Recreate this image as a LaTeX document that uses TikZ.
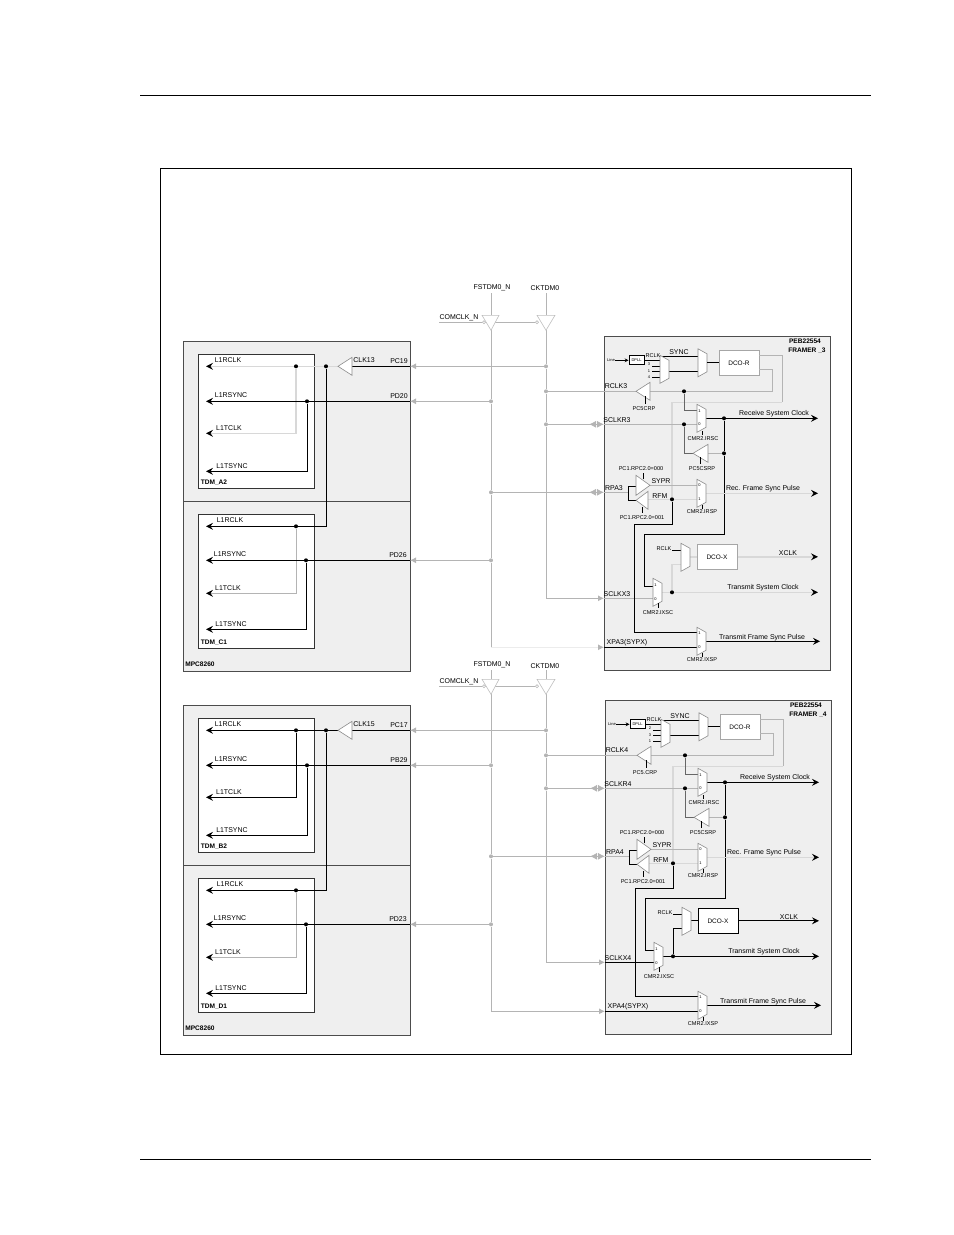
\documentclass[tikz,border=0pt]{standalone}
\usepackage{fontspec}
\setmainfont{Liberation Sans}
\usetikzlibrary{arrows.meta}
\definecolor{panelgrey}{HTML}{EFEFEF}
\definecolor{wiregrey}{HTML}{B4B4B4}
\definecolor{faintgrey}{HTML}{D8D8D8}
\definecolor{palegrey}{HTML}{ECECEC}
\tikzset{
  lbl/.style={inner sep=0pt,font=\fontsize{7}{8}\selectfont},
  lblbold/.style={inner sep=0pt,font=\fontsize{6.6}{7}\selectfont\bfseries},
  lblsm/.style={inner sep=0pt,font=\fontsize{5.6}{6}\selectfont},
  lbltiny/.style={inner sep=0pt,font=\fontsize{4}{5}\selectfont},
  panelbox/.style={draw=black!70,fill=panelgrey,line width=1bp,inner sep=0pt,anchor=north west},
  tdmbox/.style={draw=black!80,fill=white,line width=1bp,inner sep=0pt,anchor=north west},
  dcobox/.style={draw=black!35,fill=white,line width=1bp,inner sep=0pt,minimum width=40bp,minimum height=25bp,font=\fontsize{6.5}{7}\selectfont},
  dpllbox/.style={draw=black,fill=white,line width=.9bp,inner sep=0pt,minimum width=15bp,minimum height=9bp,font=\fontsize{4}{5}\selectfont},
  wire/.style={draw=black,line width=.9bp},
  midwire/.style={draw=black!60,line width=.8bp},
  greywire/.style={draw=wiregrey,line width=.9bp},
  faintwire/.style={draw=faintgrey,line width=1.4bp},
  gateline/.style={draw=black!45,fill=white,line width=.6bp},
  busgate/.style={draw=black!25,fill=white,line width=.6bp},
  arr/.style={-{Stealth[black,length=7bp,width=7bp,inset=2.5bp]}},
  smallarr/.style={-{Stealth[black,length=4bp,width=4bp,inset=1.5bp]}},
  greyarr/.style={-{Latex[wiregrey,length=6bp,width=6bp]}},
  dblarr/.style={-{Latex[wiregrey,reversed,length=7bp,width=7bp,sep=1bp]Latex[wiregrey,length=7bp,width=7bp]}},
  jct/.style={circle,fill=black,inner sep=0pt,minimum size=4bp},
  greyjct/.style={circle,fill=wiregrey,inner sep=0pt,minimum size=4bp},
  bubble/.style={circle,draw=black!25,fill=white,line width=.5bp,inner sep=0pt,minimum size=3bp},
  topwires/.style={
    altwire/.style={faintwire},
    altthin/.style={greywire},
    recwire/.style={draw=faintgrey,line width=.9bp},
    xpawire/.style={draw=palegrey,line width=.9bp},
    altbox/.style={dcobox}},
  lowwires/.style={
    altwire/.style={wire},
    altthin/.style={wire},
    recwire/.style={faintwire},
    xpawire/.style={greywire},
    altbox/.style={dcobox,draw=black}}
}
% mux: x of left edge, y of centre
\newcommand{\muxshape}[2]{\draw[gateline] (#1,#2-14) -- (#1+9,#2-9) -- (#1+9,#2+9) -- (#1,#2+14) -- cycle;}
% triangle gate: apex x, base x, y, half height
\newcommand{\gateshape}[4]{\draw[gateline] (#1,#3) -- (#2,#3-#4) -- (#2,#3+#4) -- cycle;}

\newcommand{\mpcblock}[6]{%
  \node[panelbox,minimum width=227bp,minimum height=330bp] (mpc) at (183,342) {};
  \coordinate (divl) at (183,502);
  \coordinate (divr) at (410,502);
  \draw[draw=black!70,line width=.7bp] (divl) -- (divr);
  \node[tdmbox,minimum width=116bp,minimum height=134bp] (tdmup) at (198,355) {};
  \node[tdmbox,minimum width=116bp,minimum height=134bp] (tdmlow) at (198,515) {};
  \node[jct] (jclk) at (326,367) {};
  \node[jct] (jrclk) at (296,367) {};
  \node[jct] (jsync) at (307,402) {};
  \node[jct] (jrclklow) at (296,527) {};
  \node[jct] (jsynclow) at (306,561) {};
  \coordinate (pcport) at (410,367);
  \coordinate (pdport) at (410,402);
  \coordinate (pdlow) at (410,561);
  \coordinate (clkin) at (352,367);
  \coordinate (clkout) at (338,367);
  \coordinate (rclkend) at (206,367);
  \coordinate (rsyncend) at (206,402);
  \coordinate (tclkend) at (206,434);
  \coordinate (tsyncend) at (206,472);
  \coordinate (rclklow) at (206,527);
  \coordinate (rsynclow) at (206,561);
  \coordinate (tclklow) at (206,594);
  \coordinate (tsynclow) at (206,630);
  \draw[altwire,arr] (clkout) -- (jclk) -- (jrclk) -- (rclkend);
  \draw[wire] (pcport) -- (clkin);
  \draw[altwire,arr] (jrclk) |- (tclkend);
  \draw[wire] (jclk) |- (jrclklow);
  \draw[wire,arr] (jrclklow) -- (rclklow);
  \draw[greywire,arr] (jrclklow) |- (tclklow);
  \draw[wire,arr] (pdport) -- (jsync) -- (rsyncend);
  \draw[wire,arr] (jsync) |- (tsyncend);
  \draw[wire,arr] (pdlow) -- (jsynclow) -- (rsynclow);
  \draw[wire,arr] (jsynclow) |- (tsynclow);
  \gateshape{338}{352}{367}{9}
  \node[lbl] (clklbl) at (364,361) {#3};
  \node[lbl] (pclbl) at (399,362) {#4};
  \node[lbl] (pdlbl) at (399,397) {#5};
  \node[lbl] (pdlowlbl) at (398,556) {#6};
  \node[lbl] (rclklbl) at (228,361) {L1RCLK};
  \node[lbl] (rsynclbl) at (231,396) {L1RSYNC};
  \node[lbl] (tclklbl) at (229,429) {L1TCLK};
  \node[lbl] (tsynclbl) at (232,467) {L1TSYNC};
  \node[lblbold] (tdmuplbl) at (214,483) {#1};
  \node[lbl] (rclklowlbl) at (230,521) {L1RCLK};
  \node[lbl] (rsynclowlbl) at (230,555) {L1RSYNC};
  \node[lbl] (tclklowlbl) at (228,589) {L1TCLK};
  \node[lbl] (tsynclowlbl) at (231,625) {L1TSYNC};
  \node[lblbold] (tdmlowlbl) at (214,643) {#2};
  \node[lblbold] (mpclbl) at (200,665) {MPC8260};
}

\newcommand{\framerblock}[9]{%
  \node[panelbox,minimum width=226bp,minimum height=334bp] (framer) at (604,337) {};
  \node[lblbold] (peblbl) at (805,342) {PEB22554};
  \node[lblbold] (framerlbl) at (807,351) {#1};
  %% receive clock part
  \node[lbltiny] (linelbl) at (611,361) {Line};
  \node[dpllbox] (dpll) at (636.5,361) {DPLL};
  \coordinate (muxone) at (660,361);
  \draw[wire,smallarr] (linelbl) -- (dpll);
  \draw[wire] (dpll) -- (muxone);
  \foreach \inname/\iny in {a/367,b/372,c/378} {
    \coordinate (inl\inname) at (652,\iny);
    \coordinate (inr\inname) at (660,\iny);
    \draw[wire] (inl\inname) -- (inr\inname);
  }
  \node[lbltiny] (diga) at (649,365) {#7};
  \node[lbltiny] (digb) at (649,372) {#8};
  \node[lbltiny] (digc) at (649,378) {#9};
  \coordinate (syncl) at (662,357);
  \coordinate (syncr) at (698,357);
  \coordinate (muxoutl) at (669,372);
  \coordinate (muxoutr) at (698,372);
  \draw[wire] (syncl) -- (syncr);
  \draw[wire] (muxoutl) -- (muxoutr);
  \muxshape{660}{370}
  \muxshape{698}{363.5}
  \node[dcobox] (dcor) at (739,363.5) {DCO-R};
  \coordinate (mtwoout) at (707,363.5);
  \draw[wire] (mtwoout) -- (dcor);
  \node[lblsm] (rclkmux) at (653,356) {RCLK};
  \node[lbl] (synclbl) at (679,353) {SYNC};
  \coordinate (dcortop) at (759,356);
  \coordinate (dcorbot) at (759,370);
  \coordinate (fbcorner) at (782,403);
  \coordinate (refcorner) at (772,392);
  \coordinate (crpin) at (650,392);
  \coordinate (crpout) at (636,392);
  \coordinate (rclkport) at (604,392);
  \node[jct] (jref) at (684,392) {};
  \node[jct] (jrfm) at (672,500) {};
  \draw[greywire] (dcortop) -| (fbcorner);
  \draw[faintwire] (fbcorner) -| (jrfm);
  \draw[greywire] (dcorbot) -| (refcorner) -- (jref) -- (crpin);
  \draw[greywire] (crpout) -- (rclkport);
  \gateshape{636}{650}{392}{9}
  \coordinate (crptop) at (645,397);
  \coordinate (crpbot) at (645,405);
  \draw[wire] (crptop) -- (crpbot);
  \node[lblsm] (crplbl) at (644,409) {\crplabel};
  \node[lbl] (rclkportlbl) at (616,387) {#2};
  %% system clock mux
  \coordinate (mthreeone) at (697,411);
  \coordinate (mthreezero) at (697,425);
  \coordinate (mthreeout) at (706,419);
  \coordinate (rxend) at (818,419);
  \coordinate (sclkrport) at (604,425);
  \node[jct] (jsclk) at (684,425) {};
  \node[jct] (jrx) at (724,419) {};
  \node[jct] (jcs) at (724,454) {};
  \coordinate (csrpin) at (708,454);
  \coordinate (csrpout) at (693,454);
  \coordinate (rxturn) at (644,535);
  \coordinate (mfourone) at (653,587);
  \draw[midwire] (jref) |- (mthreeone);
  \draw[greywire] (sclkrport) -- (jsclk) -- (mthreezero);
  \draw[midwire] (jsclk) |- (csrpout);
  \draw[greywire] (csrpin) -- (jcs);
  \draw[wire,arr] (mthreeout) -- (jrx) -- (rxend);
  \draw[wire] (jrx) -- (jcs) |- (rxturn) |- (mfourone);
  \muxshape{697}{419}
  \gateshape{693}{708}{454}{9}
  \coordinate (irsctop) at (702,432);
  \coordinate (irscbot) at (702,436);
  \draw[wire] (irsctop) -- (irscbot);
  \coordinate (csrptop) at (700,458);
  \coordinate (csrpbot) at (700,465);
  \draw[wire] (csrptop) -- (csrpbot);
  \node[lbltiny] (mthreeonelbl) at (699.5,412) {1};
  \node[lbltiny] (mthreezerolbl) at (699.5,425) {0};
  \node[lbl] (rxlbl) at (774,414) {Receive System Clock};
  \node[lbl] (sclkrlbl) at (617,421) {#3};
  \node[lblsm] (irsclbl) at (703,439) {CMR2.IRSC};
  \node[lblsm] (csrplbl) at (702,469) {PC5CSRP};
  %% frame sync part
  \coordinate (rpaport) at (604,493);
  \coordinate (brjoin) at (628,493);
  \coordinate (brtop) at (628,487);
  \coordinate (brbot) at (628,501);
  \coordinate (uptri) at (636,487);
  \coordinate (lowtri) at (636,501);
  \coordinate (syprout) at (650,486);
  \coordinate (syprend) at (697,486);
  \coordinate (rfmout) at (648,500);
  \coordinate (rfmend) at (697,500);
  \coordinate (mfiveout) at (706,494);
  \coordinate (recend) at (818,494);
  \draw[greywire] (rpaport) -- (brjoin);
  \draw[wire] (uptri) -- (brtop) -- (brbot) -- (lowtri);
  \draw[greywire] (syprout) -- (syprend);
  \draw[faintwire] (rfmout) -- (jrfm) -- (rfmend);
  \draw[recwire,arr] (mfiveout) -- (recend);
  \gateshape{650}{636}{486}{10}
  \gateshape{636}{648}{501}{9}
  \muxshape{697}{494}
  \coordinate (sellow) at (642,508);
  \coordinate (sellowb) at (642,514);
  \coordinate (selup) at (643,480);
  \coordinate (selupb) at (643,474);
  \draw[wire] (sellow) -- (sellowb);
  \draw[wire] (selup) -- (selupb);
  \coordinate (irsptop) at (702,506);
  \coordinate (irspbot) at (702,510);
  \draw[wire] (irsptop) -- (irspbot);
  \node[lbltiny] (mfivezerolbl) at (699.5,486) {0};
  \node[lbltiny] (mfiveonelbl) at (699.5,500) {1};
  \node[lblsm] (selulbl) at (641,469) {PC1.RPC2.0=000};
  \node[lblsm] (sellbl) at (642,518) {PC1.RPC2.0=001};
  \node[lbl] (rpalbl) at (614,489) {#4};
  \node[lbl] (syprlbl) at (661,482) {SYPR};
  \node[lbl] (rfmlbl) at (660,497) {RFM};
  \node[lbl] (reclbl) at (763,489) {Rec. Frame Sync Pulse};
  \node[lblsm] (irsplbl) at (702,512) {CMR2.IRSP};
  %% transmit part
  \coordinate (rclkx) at (672,551);
  \coordinate (msevenin) at (681,551);
  \coordinate (mseven) at (681,565);
  \coordinate (msevenout) at (690,557.5);
  \coordinate (xclkend) at (818,557.5);
  \node[altbox] (dcox) at (717,557.5) {DCO-X};
  \node[jct] (jtx) at (672,593) {};
  \coordinate (mfourout) at (662,593);
  \coordinate (txend) at (818,593);
  \coordinate (sclkxport) at (604,599);
  \coordinate (mfourzero) at (653,599);
  \coordinate (rfmturn) at (634,525);
  \coordinate (msixone) at (697,633);
  \coordinate (msixzero) at (697,648);
  \coordinate (xpaport) at (604,648);
  \coordinate (msixout) at (706,642);
  \coordinate (frameend) at (820,642);
  \draw[wire] (rclkx) -- (msevenin);
  \draw[altwire] (msevenout) -- (dcox);
  \draw[altwire,arr] (dcox) -- (xclkend);
  \draw[altwire] (mseven) -| (jtx);
  \draw[altwire,arr] (mfourout) -- (jtx) -- (txend);
  \draw[altthin] (sclkxport) -- (mfourzero);
  \draw[wire] (jrfm) |- (rfmturn) |- (msixone);
  \draw[wire] (xpaport) -- (msixzero);
  \draw[wire,arr] (msixout) -- (frameend);
  \muxshape{681}{558}
  \muxshape{653}{593}
  \muxshape{697}{642}
  \coordinate (ixsctop) at (658,604);
  \coordinate (ixscbot) at (658,609);
  \draw[wire] (ixsctop) -- (ixscbot);
  \coordinate (ixsptop) at (702,654);
  \coordinate (ixspbot) at (702,658);
  \draw[wire] (ixsptop) -- (ixspbot);
  \node[lbltiny] (mfouronelbl) at (655.5,586) {1};
  \node[lbltiny] (mfourzerolbl) at (655.5,600) {0};
  \node[lbltiny] (msixonelbl) at (699.5,634) {1};
  \node[lbltiny] (msixzerolbl) at (699.5,648) {0};
  \node[lblsm] (rclkxlbl) at (664,549) {RCLK};
  \node[lbl] (xclklbl) at (788,554) {XCLK};
  \node[lbl] (txlbl) at (763,588) {Transmit System Clock};
  \node[lbl] (sclkxlbl) at (617,595) {#5};
  \node[lblsm] (ixsclbl) at (658,613) {CMR2.IXSC};
  \node[lbl] (framelbl) at (762,638) {Transmit Frame Sync Pulse};
  \node[lbl] (xpalbl) at (627,643) {#6};
  \node[lblsm] (ixsplbl) at (702,660) {CMR2.IXSP};
}

% bus between the two blocks: label y of FSTDM0_N, label y of CKTDM0, top of the lines
\newcommand{\clockbus}[3]{%
  \coordinate (fstop) at (491,#3);
  \coordinate (fsin) at (491,316);
  \coordinate (fsout) at (491,331);
  \coordinate (cktop) at (546,#3);
  \coordinate (ckin) at (546,316);
  \coordinate (ckout) at (546,331);
  \coordinate (comstart) at (439,323);
  \node[bubble] (fsbub) at (484,323) {};
  \node[bubble] (ckbub) at (537,323) {};
  \coordinate (fscorner) at (491,648);
  \node[greyjct] (ckpc) at (546,367) {};
  \node[greyjct] (ckrclk) at (546,392) {};
  \node[greyjct] (cksclk) at (546,425) {};
  \node[greyjct] (fspd) at (491,402) {};
  \node[greyjct] (fsrpa) at (491,493) {};
  \node[greyjct] (fslow) at (491,561) {};
  \draw[greywire] (comstart) -- (fsbub) -- (ckbub);
  \draw[greywire] (fstop) -- (fsin);
  \draw[greywire] (cktop) -- (ckin);
  \draw[greywire] (fsout) -- (fspd) -- (fsrpa) -- (fslow) -- (fscorner);
  \draw[greywire,greyarr] (ckout) -- (ckpc) -- (ckrclk) -- (cksclk) |- (sclkxport);
  \draw[greywire,greyarr] (ckpc) -- (pcport);
  \draw[greywire,greyarr] (fspd) -- (pdport);
  \draw[greywire,greyarr] (fslow) -- (pdlow);
  \draw[greywire] (ckrclk) -- (rclkport);
  \draw[greywire,dblarr] (cksclk) -- (sclkrport);
  \draw[greywire,dblarr] (fsrpa) -- (rpaport);
  \draw[xpawire,greyarr] (fscorner) -- (xpaport);
  \draw[busgate] (482,316) -- (499,316) -- (491,331) -- cycle;
  \draw[busgate] (537,316) -- (555,316) -- (546,331) -- cycle;
  \node[bubble] (fsbubtop) at (fsbub) {};
  \node[bubble] (ckbubtop) at (ckbub) {};
  \node[lbl] (fslbl) at (492,#1) {FSTDM0\_N};
  \node[lbl] (cklbl) at (545,#2) {CKTDM0};
  \node[lbl] (comlbl) at (459,318) {COMCLK\_N};
}

\newcommand{\crplabel}{PC5CRP}

\begin{document}
\begin{tikzpicture}[x=1bp,y=-1bp]
\useasboundingbox (0,0.7) rectangle (954,1235.7);
\coordinate (headl) at (140,96);
\coordinate (headr) at (871,96);
\coordinate (footl) at (140,1160);
\coordinate (footr) at (871,1160);
\draw[line width=.8bp] (headl) -- (headr);
\draw[line width=.8bp] (footl) -- (footr);
\node[draw=black,line width=.8bp,inner sep=0pt,anchor=north west,minimum width=691bp,minimum height=886bp] (outer) at (159.5,168.5) {};
%%
\begin{scope}[name prefix=a-,topwires]
  \mpcblock{TDM\_A2}{TDM\_C1}{CLK13}{PC19}{PD20}{PD26}
  \framerblock{FRAMER \_3}{RCLK3}{SCLKR3}{RPA3}{SCLKX3}{XPA3(SYPX)}{3}{1}{4}
  \clockbus{288}{289}{294}
\end{scope}
%%
\renewcommand{\crplabel}{PC5.CRP}
\begin{scope}[name prefix=b-,lowwires,shift={(0,364)}]
  \mpcblock{TDM\_B2}{TDM\_D1}{CLK15}{PC17}{PB29}{PD23}
  \begin{scope}[shift={(1,0)}]
    \framerblock{FRAMER \_4}{RCLK4}{SCLKR4}{RPA4}{SCLKX4}{XPA4(SYPX)}{2}{3}{1}
  \end{scope}
  \clockbus{301}{303}{307}
\end{scope}
%
\end{tikzpicture}
\end{document}
